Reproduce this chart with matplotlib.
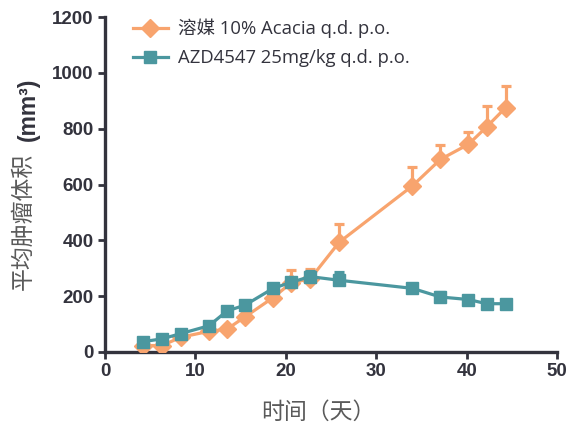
import matplotlib
matplotlib.use("Agg")
import matplotlib.pyplot as plt
from matplotlib.lines import Line2D
import numpy as np

# Data
days_vehicle = [4.2, 6.3, 8.4, 11.5, 13.5, 15.5, 18.6, 20.6, 22.7, 25.9, 34.0, 37.1, 40.2, 42.2, 44.3]
vol_vehicle = [23, 23, 53, 74, 82, 126, 195, 248, 262, 393, 595, 690, 744, 806, 875]
err_vehicle = [5, 5, 8, 8, 8, 10, 15, 46, 34, 65, 68, 51, 43, 76, 78]

days_azd = [4.2, 6.3, 8.4, 11.5, 13.5, 15.5, 18.6, 20.6, 22.7, 25.9, 34.0, 37.1, 40.2, 42.2, 44.3]
vol_azd = [37, 47, 66, 94, 147, 168, 228, 250, 270, 257, 228, 197, 188, 173, 173]
err_azd = [4, 4, 5, 6, 6, 8, 10, 10, 20, 28, 8, 18, 8, 6, 6]

label_vehicle = "溶媒 10% Acacia q.d. p.o."
label_azd = "AZD4547 25mg/kg q.d. p.o."
xticks = [0, 10, 20, 30, 40, 50]
yticks = [0, 200, 400, 600, 800, 1000, 1200]

orange = "#F8A46E"
teal = "#4B979F"
axcol = "#33333D"
txtgray = "#5A5A5A"

plt.rcParams['font.family'] = ['Open Sans', 'Noto Sans CJK SC', 'DejaVu Sans']

fig = plt.figure(figsize=(5.69, 4.32), dpi=100)
ax = fig.add_axes([0.1845, 0.1852, 0.7945, 0.7754])

ax.errorbar(days_vehicle, vol_vehicle,
            yerr=[np.zeros(len(err_vehicle)), err_vehicle],
            color=orange, marker='D', markersize=9, linewidth=2.3,
            elinewidth=2.3, capsize=3.6, capthick=2.3, zorder=3)
ax.errorbar(days_azd, vol_azd,
            yerr=[np.zeros(len(err_azd)), err_azd],
            color=teal, marker='s', markersize=8.5, linewidth=2.3,
            elinewidth=2.3, capsize=3.6, capthick=2.3, zorder=4)

ax.set_xlim(0, 50)
ax.set_ylim(0, 1200)
ax.set_xticks(xticks)
ax.set_yticks(yticks)
for s in ['top', 'right']:
    ax.spines[s].set_visible(False)
for s in ['left', 'bottom']:
    ax.spines[s].set_linewidth(2.4)
    ax.spines[s].set_color(axcol)
ax.tick_params(axis='both', direction='out', length=5, width=2, color=axcol,
               labelcolor=axcol, pad=3)
for lab in ax.get_xticklabels() + ax.get_yticklabels():
    lab.set_fontfamily(['Liberation Sans'])
    lab.set_fontweight('bold')
    lab.set_fontsize(13.5)

handles = [
    Line2D([], [], color=orange, marker='D', markersize=9, linewidth=2.3),
    Line2D([], [], color=teal, marker='s', markersize=8.5, linewidth=2.3),
]
leg = ax.legend(handles, [label_vehicle, label_azd], loc='upper left',
                bbox_to_anchor=(0.025, 1.045), frameon=False,
                fontsize=13.3, labelspacing=0.6, handlelength=1.9,
                handletextpad=0.55, labelcolor=axcol)
for t in leg.get_texts():
    t.set_fontfamily(['Open Sans', 'Noto Sans CJK SC'])

# Y label: Chinese part + bold unit
fig.text(23 / 569, 1 - 290 / 432, "平均肿瘤体积", rotation=90, ha='center', va='bottom',
         fontsize=16.5, color=txtgray, fontweight='light', family=['Noto Sans CJK SC'])
fig.text(28 / 569, 1 - 141 / 432, "(mm³)", rotation=90, ha='center', va='bottom',
         fontsize=16.5, color=axcol, fontweight='bold', family=['Liberation Sans'])

fig.text(318 / 569, 1 - 412 / 432, "时间（天）", ha='center', va='center',
         fontsize=16.5, color=txtgray, fontweight='light', family=['Noto Sans CJK SC'])

fig.savefig("out.png", dpi=100)
